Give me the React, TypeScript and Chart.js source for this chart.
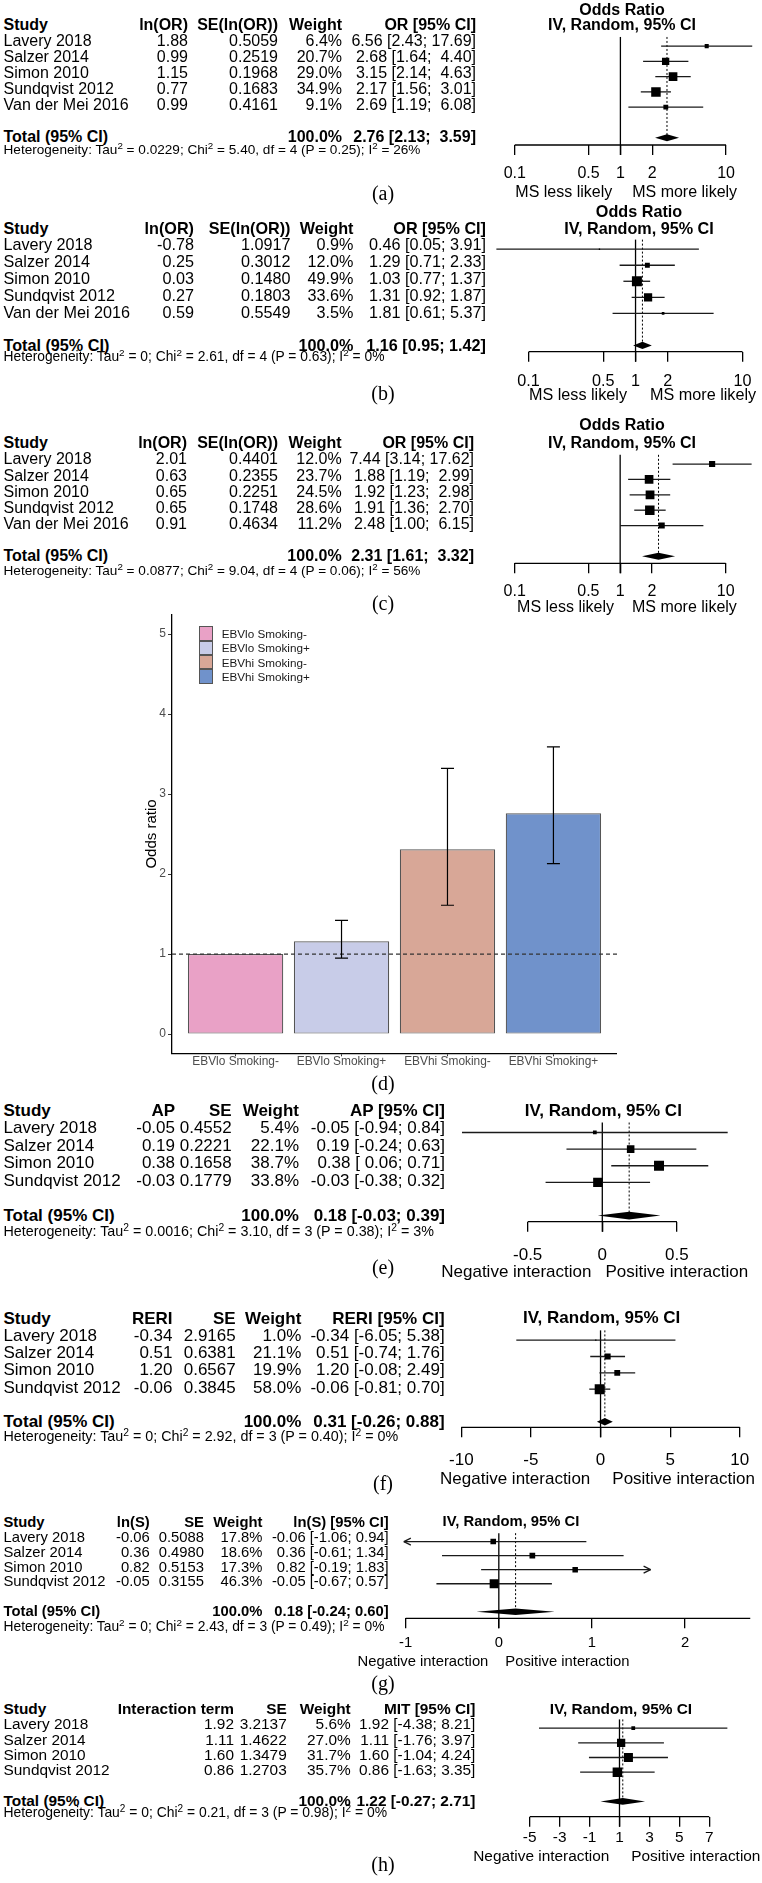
import React, { useEffect, useRef } from 'react';
import { Chart, registerables } from 'chart.js';
Chart.register(...registerables);

const SANS = "'Liberation Sans', Arial, Helvetica, sans-serif";
const SERIF = "'Liberation Serif', 'Times New Roman', Times, serif";
const PAGE_W = 762;

// ---------------- data ----------------
const studies5 = ['Lavery 2018', 'Salzer 2014', 'Simon 2010', 'Sundqvist 2012', 'Van der Mei 2016'];
const studies4 = ['Lavery 2018', 'Salzer 2014', 'Simon 2010', 'Sundqvist 2012'];

// (a)
const lnOrA = [1.88, 0.99, 1.15, 0.77, 0.99];
const seA = [0.5059, 0.2519, 0.1968, 0.1683, 0.4161];
const weightA = [6.4, 20.7, 29.0, 34.9, 9.1];
const orA = [6.56, 2.68, 3.15, 2.17, 2.69];
const lowA = [2.43, 1.64, 2.14, 1.56, 1.19];
const highA = [17.69, 4.40, 4.63, 3.01, 6.08];
const totalA = [2.76, 2.13, 3.59];
const hetA = ['0.0229', '5.40', '4', '0.25', '26%'];

// (b)
const lnOrB = [-0.78, 0.25, 0.03, 0.27, 0.59];
const seB = [1.0917, 0.3012, 0.1480, 0.1803, 0.5549];
const weightB = [0.9, 12.0, 49.9, 33.6, 3.5];
const orB = [0.46, 1.29, 1.03, 1.31, 1.81];
const lowB = [0.05, 0.71, 0.77, 0.92, 0.61];
const highB = [3.91, 2.33, 1.37, 1.87, 5.37];
const totalB = [1.16, 0.95, 1.42];
const hetB = ['0', '2.61', '4', '0.63', '0%'];

// (c)
const lnOrC = [2.01, 0.63, 0.65, 0.65, 0.91];
const seC = [0.4401, 0.2355, 0.2251, 0.1748, 0.4634];
const weightC = [12.0, 23.7, 24.5, 28.6, 11.2];
const orC = [7.44, 1.88, 1.92, 1.91, 2.48];
const lowC = [3.14, 1.19, 1.23, 1.36, 1.00];
const highC = [17.62, 2.99, 2.98, 2.70, 6.15];
const totalC = [2.31, 1.61, 3.32];
const hetC = ['0.0877', '9.04', '4', '0.06', '56%'];

// (d)
const barCategories = ['EBVlo Smoking-', 'EBVlo Smoking+', 'EBVhi Smoking-', 'EBVhi Smoking+'];
const barOR = [1.0, 1.16, 2.31, 2.76];
const barLow = [null, 0.95, 1.61, 2.13];
const barHigh = [null, 1.42, 3.32, 3.59];
const barColors = ['#E9A1C6', '#C8CCE8', '#D8A797', '#7092CB'];
const barYTicks = [0, 1, 2, 3, 4, 5];

// (e)
const apE = [-0.05, 0.19, 0.38, -0.03];
const seE = [0.4552, 0.2221, 0.1658, 0.1779];
const weightE = [5.4, 22.1, 38.7, 33.8];
const lowE = [-0.94, -0.24, 0.06, -0.38];
const highE = [0.84, 0.63, 0.71, 0.32];
const totalE = [0.18, -0.03, 0.39];
const hetE = ['0.0016', '3.10', '3', '0.38', '3%'];

// (f)
const reriF = [-0.34, 0.51, 1.20, -0.06];
const seF = [2.9165, 0.6381, 0.6567, 0.3845];
const weightF = [1.0, 21.1, 19.9, 58.0];
const lowF = [-6.05, -0.74, -0.08, -0.81];
const highF = [5.38, 1.76, 2.49, 0.70];
const totalF = [0.31, -0.26, 0.88];
const hetF = ['0', '2.92', '3', '0.40', '0%'];

// (g)
const lnSG = [-0.06, 0.36, 0.82, -0.05];
const seG = [0.5088, 0.4980, 0.5153, 0.3155];
const weightG = [17.8, 18.6, 17.3, 46.3];
const lowG = [-1.06, -0.61, -0.19, -0.67];
const highG = [0.94, 1.34, 1.83, 0.57];
const totalG = [0.18, -0.24, 0.60];
const hetG = ['0', '2.43', '3', '0.49', '0%'];

// (h)
const mitH = [1.92, 1.11, 1.60, 0.86];
const seH = [3.2137, 1.4622, 1.3479, 1.2703];
const weightH = [5.6, 27.0, 31.7, 35.7];
const lowH = [-4.38, -1.76, -1.04, -1.63];
const highH = [8.21, 3.97, 4.24, 3.35];
const totalH = [1.22, -0.27, 2.71];
const hetH = ['0', '0.21', '3', '0.98', '0%'];

const ticksOR = [0.1, 0.5, 1, 2, 10];
const ticksE = [-0.5, 0, 0.5];
const ticksF = [-10, -5, 0, 5, 10];
const ticksG = [-1, 0, 1, 2];
const ticksH = [-5, -3, -1, 1, 3, 5, 7];

const sideMS = ['MS less likely', 'MS more likely'];
const sideInt = ['Negative interaction', 'Positive interaction'];

// ---------------- layout (positions only) ----------------
type Lay = {
  headerY: number; step: number; axisY: number; xA: [number, number]; xB: [number, number];
  tickY: number; sideY: number; side: [number, number]; titleX: number; titleY: number[];
  cols: number[]; hetY: number; font: number; hetFont: number; sq: number;
  xlim?: [number, number]; axisEnd?: number;
};

const layA: Lay = { headerY: 25.3, step: 16.0, axisY: 145, xA: [0.1, 512.7], xB: [10, 731.7], tickY: 173.3, sideY: 191.7, side: [-10, 10], titleX: 622, titleY: [10, 25.3], cols: [188, 278, 342, 476], hetY: 149.3, font: 16, hetFont: 13.6, sq: 9.5 };
const layB: Lay = { headerY: 227.5, step: 16.8, axisY: 351.7, xA: [0.1, 527.5], xB: [10, 750.5], tickY: 381.7, sideY: 394.3, side: [-12, 11], titleX: 639, titleY: [211, 227.7], cols: [194, 290.5, 353.5, 486], hetY: 356.7, font: 16.2, hetFont: 13.8, sq: 10 };
const layC: Lay = { headerY: 443.3, step: 16.1, axisY: 563.3, xA: [0.1, 512.6], xB: [10, 731.3], tickY: 591.7, sideY: 606.7, side: [-8, 10], titleX: 622, titleY: [425, 442.7], cols: [187, 278, 341.6, 474], hetY: 570, font: 16, hetFont: 13.6, sq: 9.5 };
const layE: Lay = { headerY: 1110.3, step: 17.5, axisY: 1221.7, xA: [-0.5, 526], xB: [0.5, 681], tickY: 1255, sideY: 1271.7, side: [-12, 2], titleX: 603.3, titleY: [1110], cols: [175, 231.7, 299, 445], hetY: 1230.7, font: 17, hetFont: 14.3, sq: 10 };
const layF: Lay = { headerY: 1318.3, step: 17.2, axisY: 1427.3, xA: [-10, 457.3], xB: [10, 747.3], tickY: 1460, sideY: 1478, side: [-12, 10], titleX: 601.7, titleY: [1317.3], cols: [172.5, 235.7, 301.3, 444.6], hetY: 1435.7, font: 17, hetFont: 14.3, sq: 10 };
const layG: Lay = { headerY: 1522.7, step: 14.8, axisY: 1618.3, xA: [-1, 400], xB: [2, 689], tickY: 1643.3, sideY: 1661.7, side: [-8, 9], titleX: 511, titleY: [1521.7], cols: [149.7, 204, 262.4, 388.7], hetY: 1626.7, font: 14.8, hetFont: 13.8, sq: 9, xlim: [-1.02, 1.63], axisEnd: 2.7 };
const layH: Lay = { headerY: 1708.3, step: 15.4, axisY: 1816.7, xA: [-5, 528.2], xB: [7, 714.3], tickY: 1838, sideY: 1855, side: [-12, 10], titleX: 621, titleY: [1708.3], cols: [234, 286.7, 350.7, 475.4], hetY: 1812.3, font: 15.4, hetFont: 13.9, sq: 9.5 };

type Panel = {
  studies: string[]; col1: number[]; se: number[]; weight: number[]; est: number[];
  low: number[]; high: number[]; total: number[]; het: string[]; headers: string[];
  log: boolean; ref: number; ticks: number[]; side: string[]; titles: string[]; lay: Lay;
};

const panels: Panel[] = [
  { studies: studies5, col1: lnOrA, se: seA, weight: weightA, est: orA, low: lowA, high: highA, total: totalA, het: hetA,
    headers: ['Study', 'ln(OR)', 'SE(ln(OR))', 'Weight', 'OR [95% CI]'], log: true, ref: 1, ticks: ticksOR, side: sideMS, titles: ['Odds Ratio', 'IV, Random, 95% CI'], lay: layA },
  { studies: studies5, col1: lnOrB, se: seB, weight: weightB, est: orB, low: lowB, high: highB, total: totalB, het: hetB,
    headers: ['Study', 'ln(OR)', 'SE(ln(OR))', 'Weight', 'OR [95% CI]'], log: true, ref: 1, ticks: ticksOR, side: sideMS, titles: ['Odds Ratio', 'IV, Random, 95% CI'], lay: layB },
  { studies: studies5, col1: lnOrC, se: seC, weight: weightC, est: orC, low: lowC, high: highC, total: totalC, het: hetC,
    headers: ['Study', 'ln(OR)', 'SE(ln(OR))', 'Weight', 'OR [95% CI]'], log: true, ref: 1, ticks: ticksOR, side: sideMS, titles: ['Odds Ratio', 'IV, Random, 95% CI'], lay: layC },
  { studies: studies4, col1: apE, se: seE, weight: weightE, est: apE, low: lowE, high: highE, total: totalE, het: hetE,
    headers: ['Study', 'AP', 'SE', 'Weight', 'AP [95% CI]'], log: false, ref: 0, ticks: ticksE, side: sideInt, titles: ['IV, Random, 95% CI'], lay: layE },
  { studies: studies4, col1: reriF, se: seF, weight: weightF, est: reriF, low: lowF, high: highF, total: totalF, het: hetF,
    headers: ['Study', 'RERI', 'SE', 'Weight', 'RERI [95% CI]'], log: false, ref: 0, ticks: ticksF, side: sideInt, titles: ['IV, Random, 95% CI'], lay: layF },
  { studies: studies4, col1: lnSG, se: seG, weight: weightG, est: lnSG, low: lowG, high: highG, total: totalG, het: hetG,
    headers: ['Study', 'ln(S)', 'SE', 'Weight', 'ln(S) [95% CI]'], log: false, ref: 0, ticks: ticksG, side: sideInt, titles: ['IV, Random, 95% CI'], lay: layG },
  { studies: studies4, col1: mitH, se: seH, weight: weightH, est: mitH, low: lowH, high: highH, total: totalH, het: hetH,
    headers: ['Study', 'Interaction term', 'SE', 'Weight', 'MIT [95% CI]'], log: false, ref: 1, ticks: ticksH, side: sideInt, titles: ['IV, Random, 95% CI'], lay: layH },
];

const panelLabels = [
  { t: '(a)', y: 193 }, { t: '(b)', y: 393 }, { t: '(c)', y: 603.3 }, { t: '(d)', y: 1083 },
  { t: '(e)', y: 1267.7 }, { t: '(f)', y: 1483 }, { t: '(g)', y: 1683 }, { t: '(h)', y: 1864 },
];

// ---------------- helpers ----------------
function ciStrings(est: number[], low: number[], high: number[], total: number[]) {
  const f = (v: number) => v.toFixed(2);
  const lows = [...low, total[1]].map(f);
  const highs = [...high, total[2]].map(f);
  const lw = Math.max(...lows.map((s) => s.length));
  const hw = Math.max(...highs.map((s) => s.length));
  return [...est, total[0]].map(f).map((e, i) => `${e} [${lows[i].padStart(lw)}; ${highs[i].padStart(hw)}]`);
}

type TP = { x: number; y: number; children: React.ReactNode; align?: 'left' | 'right' | 'center'; size: number; bold?: boolean; family?: string; color?: string };
function T({ x, y, children, align = 'left', size, bold, family, color }: TP) {
  const h = Math.round(size * 1.25);
  const style: React.CSSProperties = {
    position: 'absolute', top: y - h / 2, height: h, lineHeight: h + 'px', fontSize: size,
    fontFamily: family || SANS, fontWeight: bold ? 'bold' : 'normal', whiteSpace: 'pre', color: color || '#000',
  };
  if (align === 'right') style.right = PAGE_W - x;
  else if (align === 'center') { style.left = x - 300; style.width = 600; style.textAlign = 'center'; }
  else style.left = x;
  return <div style={style}>{children}</div>;
}

const Sup = () => <span style={{ fontSize: '0.72em', position: 'relative', top: '-0.5em' }}>2</span>;

// ---------------- forest chart ----------------
const C_LEFT = 380;
const C_W = PAGE_W - C_LEFT;

function Forest({ p }: { p: Panel }) {
  const ref = useRef<HTMLCanvasElement>(null);
  const L = p.lay;
  const cTop = Math.max(0, Math.floor(L.headerY - 30));
  const cH = Math.round(L.axisY + 48 - cTop);
  useEffect(() => {
    const tf = (v: number) => (p.log ? Math.log10(v) : v);
    const itf = (t: number) => (p.log ? Math.pow(10, t) : t);
    const k = (L.xB[1] - L.xA[1]) / (tf(L.xB[0]) - tf(L.xA[0]));
    const tMin = tf(L.xA[0]) - (L.xA[1] - C_LEFT) / k;
    const tMax = tMin + C_W / k;
    const chartH = L.axisY - cTop;
    const yMin = -(L.headerY - cTop) / L.step;
    const yMax = yMin + chartH / L.step;
    const n = p.studies.length;
    const wMax = Math.max(...p.weight);
    const sides = p.weight.map((w) => L.sq * Math.sqrt(w / wMax));
    const pad = L.tickY - L.axisY - 10 - (L.font * 1.2) / 2;

    const plugin = {
      id: 'forestMarks',
      beforeDatasetsDraw(chart: any) {
        const { ctx, chartArea } = chart;
        const xs = chart.scales.x;
        const ys = chart.scales.y;
        const X = (v: number) => xs.getPixelForValue(v);
        const Y = (v: number) => ys.getPixelForValue(v);
        const line = (x1: number, y1: number, x2: number, y2: number) => {
          ctx.beginPath(); ctx.moveTo(x1, y1); ctx.lineTo(x2, y2); ctx.stroke();
        };
        ctx.save();
        const yAx = chartArea.bottom;
        ctx.strokeStyle = '#000';
        ctx.lineWidth = 1.3;
        line(X(p.ticks[0]), yAx, X(L.axisEnd !== undefined ? L.axisEnd : p.ticks[p.ticks.length - 1]), yAx);
        line(X(p.ref), Y(0.4), X(p.ref), yAx + 10);
        ctx.lineWidth = 1;
        ctx.setLineDash([2, 2]);
        line(X(p.total[0]), Y(0.4), X(p.total[0]), Y(n + 2));
        ctx.setLineDash([]);
        ctx.strokeStyle = '#1a1a1a';
        ctx.lineWidth = 1.3;
        p.low.forEach((lo, i) => {
          const y = Y(i + 1);
          let a = lo, b = p.high[i];
          let arrL = false, arrR = false;
          if (L.xlim) {
            if (a < L.xlim[0]) { a = L.xlim[0]; arrL = true; }
            if (b > L.xlim[1]) { b = L.xlim[1]; arrR = true; }
          }
          line(X(a), y, X(b), y);
          if (arrL) { line(X(a), y, X(a) + 7, y - 3.5); line(X(a), y, X(a) + 7, y + 3.5); }
          if (arrR) { line(X(b), y, X(b) - 7, y - 3.5); line(X(b), y, X(b) - 7, y + 3.5); }
        });
        const yt = Y(n + 2);
        const hh = L.step * 0.22;
        ctx.fillStyle = '#000';
        ctx.beginPath();
        ctx.moveTo(X(p.total[1]), yt);
        ctx.lineTo(X(p.total[0]), yt - hh);
        ctx.lineTo(X(p.total[2]), yt);
        ctx.lineTo(X(p.total[0]), yt + hh);
        ctx.closePath();
        ctx.fill();
        ctx.restore();
      },
    };

    const chart = new Chart(ref.current as HTMLCanvasElement, {
      type: 'scatter',
      data: {
        datasets: [{
          data: p.est.map((e, i) => ({ x: e, y: i + 1 })),
          pointStyle: 'rect',
          pointRadius: sides.map((s) => s / Math.SQRT2),
          pointHoverRadius: sides.map((s) => s / Math.SQRT2),
          backgroundColor: '#000',
          borderWidth: 0,
        }],
      },
      options: {
        animation: false,
        responsive: false,
        maintainAspectRatio: false,
        events: [],
        layout: { padding: 0 },
        plugins: { legend: { display: false }, tooltip: { enabled: false } },
        scales: {
          x: {
            type: p.log ? 'logarithmic' : 'linear',
            min: itf(tMin), max: itf(tMax), bounds: 'data',
            afterFit: (s: any) => { s.height = cH - chartH; },
            afterBuildTicks: (s: any) => { s.ticks = p.ticks.map((v) => ({ value: v })); },
            ticks: {
              autoSkip: false, maxRotation: 0, minRotation: 0, padding: pad, color: '#000',
              font: { family: SANS, size: L.font },
              callback: (_v: any, i: number) => String(p.ticks[i]),
            },
            grid: { drawOnChartArea: false, drawTicks: true, tickLength: 10, color: '#000', lineWidth: 1.3 },
            border: { display: false },
          } as any,
          y: { type: 'linear', display: false, reverse: true, min: yMin, max: yMax },
        },
      },
      plugins: [plugin],
    } as any);
    return () => chart.destroy();
  }, []);
  return <canvas ref={ref} width={C_W} height={cH} style={{ position: 'absolute', left: C_LEFT, top: cTop, width: C_W, height: cH }} />;
}

function ForestText({ p }: { p: Panel }) {
  const L = p.lay;
  const F = L.font;
  const n = p.studies.length;
  const ci = ciStrings(p.est, p.low, p.high, p.total);
  const items: React.ReactNode[] = [];
  const hy = L.headerY;
  items.push(<T key="h0" x={3.5} y={hy} size={F} bold>{p.headers[0]}</T>);
  for (let c = 1; c < 5; c++) items.push(<T key={'h' + c} x={L.cols[c - 1]} y={hy} size={F} bold align="right">{p.headers[c]}</T>);
  p.studies.forEach((s, i) => {
    const y = hy + L.step * (i + 1);
    items.push(<T key={'s' + i} x={3.5} y={y} size={F}>{s}</T>);
    items.push(<T key={'c1' + i} x={L.cols[0]} y={y} size={F} align="right">{p.col1[i].toFixed(2)}</T>);
    items.push(<T key={'c2' + i} x={L.cols[1]} y={y} size={F} align="right">{p.se[i].toFixed(4)}</T>);
    items.push(<T key={'c3' + i} x={L.cols[2]} y={y} size={F} align="right">{p.weight[i].toFixed(1) + '%'}</T>);
    items.push(<T key={'c4' + i} x={L.cols[3]} y={y} size={F} align="right">{ci[i]}</T>);
  });
  const ty = hy + L.step * (n + 2);
  items.push(<T key="t0" x={3.5} y={ty} size={F} bold>Total (95% CI)</T>);
  items.push(<T key="t3" x={L.cols[2]} y={ty} size={F} bold align="right">100.0%</T>);
  items.push(<T key="t4" x={L.cols[3]} y={ty} size={F} bold align="right">{ci[n]}</T>);
  const h = p.het;
  items.push(
    <T key="het" x={3.5} y={L.hetY} size={L.hetFont}>
      Heterogeneity: Tau<Sup /> = {h[0]}; Chi<Sup /> = {h[1]}, df = {h[2]} (P = {h[3]}); I<Sup /> = {h[4]}
    </T>
  );
  p.titles.forEach((t, i) => items.push(<T key={'ti' + i} x={L.titleX} y={L.titleY[i]} size={F} bold align="center">{t}</T>));
  const tf = (v: number) => (p.log ? Math.log10(v) : v);
  const k = (L.xB[1] - L.xA[1]) / (tf(L.xB[0]) - tf(L.xA[0]));
  const refPx = L.xA[1] + (tf(p.ref) - tf(L.xA[0])) * k;
  items.push(<T key="sl" x={refPx + L.side[0]} y={L.sideY} size={F} align="right">{p.side[0]}</T>);
  items.push(<T key="sr" x={refPx + L.side[1]} y={L.sideY} size={F}>{p.side[1]}</T>);
  return <>{items}</>;
}

// ---------------- bar chart ----------------
const B_LEFT = 138, B_TOP = 600, B_W = 479, B_H = 480;

function BarChart() {
  const ref = useRef<HTMLCanvasElement>(null);
  useEffect(() => {
    const plugin = {
      id: 'errBars',
      afterDatasetsDraw(chart: any) {
        const { ctx, chartArea } = chart;
        const xs = chart.scales.x, ys = chart.scales.y;
        ctx.save();
        ctx.strokeStyle = '#333';
        ctx.lineWidth = 1.2;
        ctx.setLineDash([4, 3]);
        const y1 = ys.getPixelForValue(1);
        ctx.beginPath(); ctx.moveTo(chartArea.left, y1); ctx.lineTo(chartArea.right, y1); ctx.stroke();
        ctx.setLineDash([]);
        ctx.strokeStyle = '#000';
        barLow.forEach((lo, i) => {
          const hi = barHigh[i];
          if (lo == null || hi == null) return;
          const x = xs.getPixelForValue(i + 1);
          const ya = ys.getPixelForValue(lo), yb = ys.getPixelForValue(hi);
          ctx.beginPath();
          ctx.moveTo(x, ya); ctx.lineTo(x, yb);
          ctx.moveTo(x - 6.5, ya); ctx.lineTo(x + 6.5, ya);
          ctx.moveTo(x - 6.5, yb); ctx.lineTo(x + 6.5, yb);
          ctx.stroke();
        });
        ctx.restore();
      },
    };
    const chart = new Chart(ref.current as HTMLCanvasElement, {
      type: 'bar',
      data: {
        datasets: [{
          data: barOR.map((v, i) => ({ x: i + 1, y: v })),
          backgroundColor: barColors,
          borderColor: '#555555',
          borderWidth: 1.2,
          borderSkipped: false,
          barPercentage: 0.9,
          categoryPercentage: 1.0,
        }],
      },
      options: {
        animation: false,
        responsive: false,
        maintainAspectRatio: false,
        events: [],
        layout: { padding: { top: 14.8, right: 0, left: 0, bottom: 0 } },
        plugins: { legend: { display: false }, tooltip: { enabled: false } },
        scales: {
          x: {
            type: 'linear', min: 0.4, max: 4.6, offset: false,
            afterFit: (s: any) => { s.height = 26.7; },
            afterBuildTicks: (s: any) => { s.ticks = barCategories.map((_c, i) => ({ value: i + 1 })); },
            ticks: { autoSkip: false, maxRotation: 0, padding: -1.5, color: '#4d4d4d', font: { family: SANS, size: 11.9 }, callback: (_v: any, i: number) => barCategories[i] },
            grid: { offset: false, drawOnChartArea: false, drawTicks: true, tickLength: 3, color: '#333' },
            border: { display: true, color: '#000', width: 1.3 },
          },
          y: {
            type: 'linear', min: -0.24, max: 5.24,
            afterFit: (s: any) => { s.width = 34; },
            afterBuildTicks: (s: any) => { s.ticks = barYTicks.map((v) => ({ value: v })); },
            ticks: { padding: 2, color: '#4d4d4d', font: { family: SANS, size: 12 }, callback: (v: any) => String(v) },
            grid: { drawOnChartArea: false, drawTicks: true, tickLength: 4, color: '#333' },
            border: { display: true, color: '#000', width: 1.3 },
          },
        },
      } as any,
      plugins: [plugin],
    } as any);
    return () => chart.destroy();
  }, []);
  return <canvas ref={ref} width={B_W} height={B_H} style={{ position: 'absolute', left: B_LEFT, top: B_TOP, width: B_W, height: B_H }} />;
}

function BarLegend() {
  const keyTop = 626.4, keyStep = 14.3;
  return (
    <>
      {barCategories.map((c, i) => (
        <React.Fragment key={c}>
          <div style={{ position: 'absolute', left: 199.3, top: keyTop + i * keyStep, width: 13.6, height: keyStep, boxSizing: 'border-box', border: '1px solid #555', background: barColors[i] }} />
          <T x={221.7} y={keyTop + i * keyStep + keyStep / 2} size={11.7} color="#1a1a1a">{c}</T>
        </React.Fragment>
      ))}
      <div style={{ position: 'absolute', left: 150.8 - 100, top: 834 - 10, width: 200, height: 20, lineHeight: '20px', textAlign: 'center', fontFamily: SANS, fontSize: 15, color: '#000', transform: 'rotate(-90deg)' }}>Odds ratio</div>
    </>
  );
}

export default function App() {
  return (
    <div style={{ position: 'absolute', left: 0, top: 0, width: PAGE_W, height: 1883, background: '#fff', overflow: 'hidden' }}>
      {panels.map((p, i) => (
        <React.Fragment key={i}>
          <Forest p={p} />
          <ForestText p={p} />
        </React.Fragment>
      ))}
      <BarChart />
      <BarLegend />
      {panelLabels.map((l) => (
        <T key={l.t} x={383} y={l.y} size={20} family={SERIF} align="center">{l.t}</T>
      ))}
    </div>
  );
}
